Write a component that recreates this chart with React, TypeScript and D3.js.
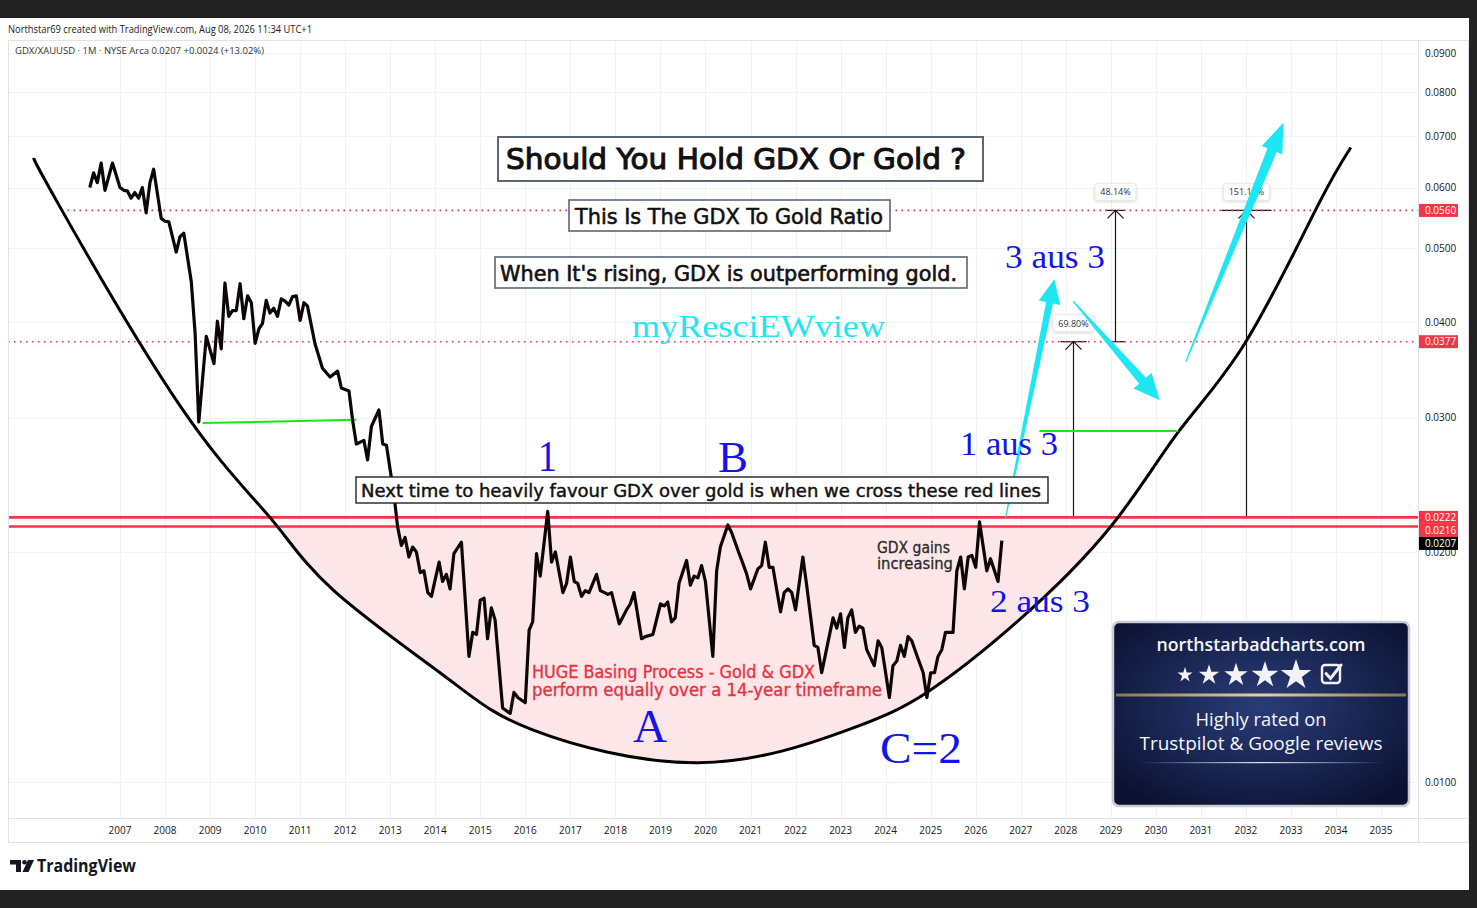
import React, { useEffect, useRef } from 'react';
import * as d3 from 'd3';

const W = 1477;
const H = 908;

const pane = { left: 8, right: 1418, top: 40, bottom: 818 };
const axisRight = 1468;
const axisBottom = 842;

// GDX / gold ratio, monthly closes
const priceMonths = [
  '2006-05', '2006-06', '2006-07', '2006-08', '2006-09', '2006-11',
  '2007-01', '2007-02', '2007-03', '2007-04', '2007-05', '2007-06', '2007-07', '2007-08', '2007-09', '2007-10', '2007-12',
  '2008-01', '2008-02', '2008-04', '2008-05', '2008-06', '2008-08', '2008-09', '2008-10', '2008-12',
  '2009-02', '2009-03', '2009-04', '2009-05', '2009-06', '2009-07', '2009-08', '2009-09', '2009-10', '2009-11', '2009-12',
  '2010-01', '2010-02', '2010-03', '2010-04', '2010-05', '2010-06', '2010-07', '2010-08', '2010-09', '2010-10', '2010-11', '2010-12',
  '2011-01', '2011-02', '2011-03', '2011-05', '2011-07', '2011-09', '2011-11', '2011-12',
  '2012-02', '2012-03', '2012-04', '2012-06', '2012-07', '2012-08', '2012-10', '2012-11', '2012-12',
  '2013-02', '2013-03', '2013-04', '2013-05', '2013-06', '2013-07', '2013-08', '2013-09', '2013-10', '2013-11', '2013-12',
  '2014-02', '2014-03', '2014-04', '2014-05', '2014-06', '2014-08', '2014-10', '2014-11', '2014-12',
  '2015-01', '2015-02', '2015-03', '2015-04', '2015-05', '2015-07', '2015-09', '2015-10', '2015-11',
  '2016-01', '2016-02', '2016-03', '2016-04', '2016-05', '2016-07', '2016-08', '2016-09', '2016-11', '2016-12',
  '2017-01', '2017-02', '2017-03', '2017-04', '2017-05', '2017-06', '2017-08', '2017-09', '2017-11', '2017-12',
  '2018-02', '2018-04', '2018-05', '2018-06', '2018-08', '2018-09', '2018-11',
  '2019-01', '2019-02', '2019-03', '2019-04', '2019-05', '2019-06', '2019-08', '2019-09', '2019-10', '2019-11', '2019-12',
  '2020-01', '2020-03', '2020-04', '2020-05', '2020-07', '2020-08', '2020-10', '2020-11', '2020-12',
  '2021-01', '2021-03', '2021-04', '2021-05', '2021-06', '2021-07', '2021-09', '2021-10', '2021-11', '2021-12',
  '2022-01', '2022-03', '2022-04', '2022-06', '2022-07', '2022-08', '2022-09', '2022-11', '2022-12',
  '2023-01', '2023-02', '2023-03', '2023-04', '2023-05', '2023-06', '2023-07', '2023-08', '2023-10', '2023-11', '2023-12',
  '2024-02', '2024-03', '2024-04', '2024-05', '2024-06', '2024-07', '2024-08', '2024-09', '2024-11', '2024-12',
  '2025-01', '2025-02', '2025-03', '2025-04', '2025-05', '2025-07', '2025-08', '2025-09', '2025-10', '2025-11', '2025-12',
  '2026-01', '2026-02', '2026-04', '2026-05', '2026-07', '2026-08',
];

const priceValues = [
  0.0600, 0.0627, 0.0609, 0.0646, 0.0595, 0.0646,
  0.0600, 0.0595, 0.0594, 0.0581, 0.0591, 0.0581, 0.0600, 0.0556, 0.0609, 0.0634, 0.0547,
  0.0542, 0.0541, 0.0494, 0.0517, 0.0523, 0.0452, 0.0387, 0.0296, 0.0383,
  0.0353, 0.0401, 0.0369, 0.0450, 0.0407, 0.0414, 0.0414, 0.0449, 0.0404, 0.0433, 0.0424,
  0.0375, 0.0392, 0.0398, 0.0427, 0.0411, 0.0417, 0.0407, 0.0429, 0.0426, 0.0421, 0.0432, 0.0433,
  0.0402, 0.0424, 0.0420, 0.0375, 0.0348, 0.0339, 0.0345, 0.0328,
  0.0325, 0.0298, 0.0277, 0.0280, 0.0264, 0.0292, 0.0307, 0.0277, 0.0276,
  0.0237, 0.0216, 0.0204, 0.0209, 0.0197, 0.0203, 0.0200, 0.0188, 0.0189, 0.0177, 0.0175,
  0.0194, 0.0183, 0.0187, 0.0179, 0.0199, 0.0206, 0.0146, 0.0157, 0.0156,
  0.0173, 0.0174, 0.0154, 0.0169, 0.0163, 0.0125, 0.0123, 0.0131, 0.0129,
  0.0127, 0.0158, 0.0162, 0.0199, 0.0186, 0.0226, 0.0194, 0.0200, 0.0177, 0.0182,
  0.0197, 0.0183, 0.0182, 0.0175, 0.0178, 0.0177, 0.0187, 0.0178, 0.0176, 0.0177,
  0.0161, 0.0168, 0.0171, 0.0177, 0.0154, 0.0155, 0.0156,
  0.0171, 0.0170, 0.0172, 0.0162, 0.0164, 0.0182, 0.0195, 0.0181, 0.0186, 0.0185, 0.0192,
  0.0183, 0.0146, 0.0189, 0.0203, 0.0217, 0.0212, 0.0199, 0.0193, 0.0187,
  0.0179, 0.0190, 0.0192, 0.0206, 0.0191, 0.0191, 0.0167, 0.0177, 0.0179, 0.0177,
  0.0168, 0.0197, 0.0181, 0.0151, 0.0150, 0.0139, 0.0147, 0.0164, 0.0159,
  0.0166, 0.0150, 0.0164, 0.0168, 0.0157, 0.0160, 0.0159, 0.0149, 0.0142, 0.0153, 0.0150,
  0.0129, 0.0142, 0.0144, 0.0151, 0.0146, 0.0155, 0.0153, 0.0148, 0.0139, 0.0129,
  0.0139, 0.0139, 0.0146, 0.0149, 0.0157, 0.0157, 0.0189, 0.0197, 0.0179, 0.0197, 0.0198,
  0.0191, 0.0219, 0.0189, 0.0196, 0.0183, 0.0207,
];

// hand-drawn bowl (rounding bottom) anchor points
const bowlMonths = [
  '2005-02', '2005-09', '2008-05', '2010-05', '2011-10', '2014-04', '2016-03', '2019-11',
  '2023-03', '2024-12', '2026-12', '2029-01', '2030-07', '2032-01', '2033-08', '2034-05',
];
const bowlValues = [
  0.0656, 0.0566, 0.0311, 0.0222, 0.0178, 0.0137, 0.0117, 0.0106,
  0.0117, 0.0131, 0.0162, 0.0216, 0.0287, 0.0377, 0.0566, 0.0677,
];

const priceTicks = [0.01, 0.02, 0.03, 0.04, 0.05, 0.06, 0.07, 0.08, 0.09];
const yearTicks = [
  2007, 2008, 2009, 2010, 2011, 2012, 2013, 2014, 2015, 2016, 2017, 2018, 2019, 2020, 2021,
  2022, 2023, 2024, 2025, 2026, 2027, 2028, 2029, 2030, 2031, 2032, 2033, 2034, 2035,
];

const redLevels = [0.0222, 0.0216];
const dottedLevels = [0.056, 0.0377];
const dottedStart = ['2005-11', '2000-01'];
const lastValue = 0.0207;

const greenStart = ['2008-11', '2027-06'];
const greenEnd = ['2012-04', '2030-07'];
const greenFrom = [0.0295, 0.0288];
const greenTo = [0.0298, 0.0288];

const measureMonths = ['2028-03', '2029-02', '2032-01'];
const measureFrom = [0.0222, 0.0377, 0.0222];
const measureTo = [0.0377, 0.056, 0.056];
const measureLabels = ['69.80%', '48.14%', '151.13%'];

const arrowTails: [string, number][] = [['2026-09', 0.0222], ['2028-03', 0.0426], ['2030-09', 0.0355]];
const arrowTips: [string, number][] = [['2027-10', 0.0455], ['2030-02', 0.0316], ['2032-11', 0.073]];

const parseMonth = d3.timeParse('%Y-%m');

const x = d3
  .scaleTime()
  .domain([new Date(2007, 0, 1), new Date(2035, 0, 1)])
  .range([120, 1381]);
const y = d3.scaleLog().domain([0.01, 0.09]).range([782, 53]);

const sans = '"DejaVu Sans", Verdana, sans-serif';
const ui = '"Open Sans", "Noto Sans", sans-serif';
const serif = '"Liberation Serif", "Times New Roman", serif';

const red = '#f23645';
const cyan = '#1ee6f2';
const blue = '#1414e8';

const App: React.FC = () => {
  const containerRef = useRef<HTMLDivElement>(null);

  useEffect(() => {
    if (containerRef && containerRef.current) {
      drawChart(containerRef.current);
    }
  }, [containerRef]);

  return <div ref={containerRef} style={{ position: 'absolute', left: 0, top: 0 }}></div>;
};

const arrowPath = (t: number[], h: number[], headLen: number, headHalf: number, neckHalf: number) => {
  const dx = h[0] - t[0];
  const dy = h[1] - t[1];
  const len = Math.hypot(dx, dy);
  const ux = dx / len;
  const uy = dy / len;
  const nx = -uy;
  const ny = ux;
  const bx = h[0] - ux * headLen;
  const by = h[1] - uy * headLen;
  const pts = [
    [t[0] + nx * 0.6, t[1] + ny * 0.6],
    [bx + nx * neckHalf, by + ny * neckHalf],
    [bx + nx * headHalf, by + ny * headHalf],
    h,
    [bx - nx * headHalf, by - ny * headHalf],
    [bx - nx * neckHalf, by - ny * neckHalf],
    [t[0] - nx * 0.6, t[1] - ny * 0.6],
  ];
  return 'M' + pts.map((p) => p.join(',')).join('L') + 'Z';
};

const drawChart = (container: HTMLDivElement) => {
  d3.select(container).selectAll('*').remove();

  const svg = d3
    .select(container)
    .append('svg')
    .attr('width', W)
    .attr('height', H)
    .style('display', 'block');

  const defs = svg.append('defs');

  // page frame
  svg.append('rect').attr('width', W).attr('height', H).attr('fill', '#ffffff');
  svg.append('rect').attr('width', W).attr('height', 18).attr('fill', '#222222');
  svg.append('rect').attr('y', 890).attr('width', W).attr('height', 18).attr('fill', '#222222');
  svg.append('rect').attr('x', 1469).attr('width', 8).attr('height', H).attr('fill', '#222222');

  // grid
  const grid = svg.append('g').attr('stroke', '#f0f2f6').attr('stroke-width', 1);
  yearTicks.forEach((yr) => {
    const xx = Math.round(x(new Date(yr, 0, 1))) + 0.5;
    grid.append('line').attr('x1', xx).attr('x2', xx).attr('y1', pane.top).attr('y2', pane.bottom);
  });
  priceTicks.forEach((v) => {
    const yy = Math.round(y(v)) + 0.5;
    grid.append('line').attr('x1', pane.left).attr('x2', pane.right).attr('y1', yy).attr('y2', yy);
  });

  // pane borders
  const border = svg.append('g').attr('stroke', '#e0e3eb').attr('stroke-width', 1).attr('fill', 'none');
  border.append('rect').attr('x', pane.left + 0.5).attr('y', pane.top + 0.5).attr('width', axisRight - pane.left).attr('height', axisBottom - pane.top);
  border.append('line').attr('x1', pane.right + 0.5).attr('x2', pane.right + 0.5).attr('y1', pane.top).attr('y2', axisBottom);
  border.append('line').attr('x1', pane.left).attr('x2', axisRight).attr('y1', pane.bottom + 0.5).attr('y2', pane.bottom + 0.5);

  const plot = svg.append('g');
  defs
    .append('clipPath')
    .attr('id', 'paneClip')
    .append('rect')
    .attr('x', pane.left + 1)
    .attr('y', pane.top + 1)
    .attr('width', pane.right - pane.left - 1)
    .attr('height', pane.bottom - pane.top - 1);
  plot.attr('clip-path', 'url(#paneClip)');

  // bowl curve
  const bowl = bowlMonths.map((m, i) => [x(parseMonth(m)!), y(bowlValues[i])] as [number, number]);
  const bowlPath = d3.line().curve(d3.curveNatural)(bowl)!;

  defs.append('clipPath').attr('id', 'bowlClip').append('path').attr('d', bowlPath + 'Z');
  plot
    .append('rect')
    .attr('x', pane.left)
    .attr('y', y(0.0216))
    .attr('width', pane.right - pane.left)
    .attr('height', pane.bottom - y(0.0216))
    .attr('fill', '#fde6e8')
    .attr('clip-path', 'url(#bowlClip)');

  // price range measurements
  const measure = plot.append('g').attr('stroke', '#131722').attr('stroke-width', 1.2).attr('fill', 'none');
  const capHalf = [13, 10, 25];
  measureMonths.forEach((m, i) => {
    const mx = Math.round(x(parseMonth(m)!)) + 0.5;
    const y0 = y(measureFrom[i]);
    const y1 = y(measureTo[i]);
    measure.append('line').attr('x1', mx).attr('x2', mx).attr('y1', y0).attr('y2', y1);
    measure.append('line').attr('x1', mx - capHalf[i]).attr('x2', mx + capHalf[i]).attr('y1', y1).attr('y2', y1);
    if (i === 1) {
      measure.append('line').attr('x1', mx - capHalf[i]).attr('x2', mx + capHalf[i]).attr('y1', y0).attr('y2', y0);
    }
    measure.append('path').attr('d', `M${mx - 8},${y1 + 8}L${mx},${y1}L${mx + 8},${y1 + 8}`);
    const label = measureLabels[i];
    const bw = label.length * 5.2 + 10;
    const lg = plot.append('g');
    lg.append('rect')
      .attr('x', mx - bw / 2)
      .attr('y', y1 - 27)
      .attr('width', bw)
      .attr('height', 17)
      .attr('rx', 3)
      .attr('fill', '#ffffff')
      .attr('stroke', '#e6e8ee')
      .style('filter', 'drop-shadow(0px 1px 1.5px rgba(0,0,0,0.15))');
    lg.append('text')
      .attr('x', mx)
      .attr('y', y1 - 15)
      .attr('text-anchor', 'middle')
      .attr('font-family', ui)
      .attr('font-size', 9)
      .attr('fill', '#333')
      .text(label);
  });

  // red lines to cross
  redLevels.forEach((v) => {
    plot
      .append('line')
      .attr('x1', pane.left)
      .attr('x2', pane.right)
      .attr('y1', y(v))
      .attr('y2', y(v))
      .attr('stroke', red)
      .attr('stroke-width', 2.6);
  });

  // dotted targets
  dottedLevels.forEach((v, i) => {
    plot
      .append('line')
      .attr('x1', Math.max(pane.left, x(parseMonth(dottedStart[i])!)))
      .attr('x2', pane.right)
      .attr('y1', y(v))
      .attr('y2', y(v))
      .attr('stroke', '#e0345c')
      .attr('stroke-width', 1.6)
      .attr('stroke-dasharray', '1.6,4.4');
  });

  plot
    .append('path')
    .attr('d', bowlPath)
    .attr('fill', 'none')
    .attr('stroke', '#000')
    .attr('stroke-width', 3);

  // green horizontals
  greenStart.forEach((m, i) => {
    plot
      .append('line')
      .attr('x1', x(parseMonth(m)!))
      .attr('x2', x(parseMonth(greenEnd[i])!))
      .attr('y1', y(greenFrom[i]))
      .attr('y2', y(greenTo[i]))
      .attr('stroke', '#16e816')
      .attr('stroke-width', 2);
  });

  // ratio line
  const pricePts = priceMonths.map((m, i) => [x(parseMonth(m)!), y(priceValues[i])] as [number, number]);
  plot
    .append('path')
    .attr('d', d3.line()(pricePts)!)
    .attr('fill', 'none')
    .attr('stroke', '#0d0606')
    .attr('stroke-width', 3.2)
    .attr('stroke-linejoin', 'round');

  // cyan arrows
  const arrowShape = [
    [24, 11, 3.5],
    [26, 12, 4.5],
    [30, 11, 5],
  ];
  arrowTails.forEach((t, i) => {
    const tp = [x(parseMonth(t[0])!), y(t[1])];
    const hp = [x(parseMonth(arrowTips[i][0])!), y(arrowTips[i][1])];
    plot
      .append('path')
      .attr('d', arrowPath(tp, hp, arrowShape[i][0], arrowShape[i][1], arrowShape[i][2]))
      .attr('fill', cyan);
  });

  // text boxes
  const boxText = (
    txt: string,
    bx: number,
    by: number,
    bw: number,
    bh: number,
    size: number,
    thick: number,
    tx: number,
    ty: number,
    tl: number,
    stroke: string,
    sw: number
  ) => {
    const g = svg.append('g');
    g.append('rect')
      .attr('x', bx)
      .attr('y', by)
      .attr('width', bw)
      .attr('height', bh)
      .attr('fill', '#fff')
      .attr('stroke', stroke)
      .attr('stroke-width', sw);
    g.append('text')
      .attr('x', tx)
      .attr('y', ty)
      .attr('font-family', sans)
      .attr('font-size', size)
      .attr('fill', '#111')
      .attr('stroke', '#111')
      .attr('stroke-width', thick)
      .attr('textLength', tl)
      .attr('lengthAdjust', 'spacingAndGlyphs')
      .text(txt);
  };

  boxText('Should You Hold GDX Or Gold ?', 498, 137, 485, 44, 29, 1.1, 506, 169, 460, '#5b6775', 2);
  boxText('This Is The GDX To Gold Ratio', 569, 200, 321, 31, 22, 0.6, 575, 224, 308, '#5b6775', 1.6);
  boxText("When It's rising, GDX is outperforming gold.", 495, 257, 472, 31, 20.5, 0.6, 500, 281, 457, '#5b6775', 1.6);
  boxText('Next time to heavily favour GDX over gold is when we cross these red lines', 356, 477, 692, 26, 18, 0.45, 361, 497, 680, '#222', 1.4);

  const freeText = (
    txt: string,
    tx: number,
    ty: number,
    size: number,
    family: string,
    fill: string,
    tl: number | null,
    weight = 400
  ) => {
    const t = svg
      .append('text')
      .attr('x', tx)
      .attr('y', ty)
      .attr('font-family', family)
      .attr('font-size', size)
      .attr('font-weight', weight)
      .attr('fill', fill)
      .text(txt);
    if (tl) t.attr('textLength', tl).attr('lengthAdjust', 'spacingAndGlyphs');
    return t;
  };

  freeText('myResciEWview', 632, 337, 32, serif, cyan, 253);
  freeText('GDX gains', 877, 553, 15, sans, '#2a2a2a', 73).attr('stroke', '#2a2a2a').attr('stroke-width', 0.3);
  freeText('increasing', 877, 569, 15, sans, '#2a2a2a', 76).attr('stroke', '#2a2a2a').attr('stroke-width', 0.3);
  freeText('HUGE Basing Process - Gold & GDX', 532, 678, 17, sans, '#e8313f', 283).attr('stroke', '#e8313f').attr('stroke-width', 0.35);
  freeText('perform equally over a 14-year timeframe', 532, 696, 17, sans, '#e8313f', 350).attr('stroke', '#e8313f').attr('stroke-width', 0.35);

  freeText('1', 538, 471, 44, serif, blue, 19);
  freeText('B', 718, 472, 44, serif, blue, 30);
  freeText('1 aus 3', 960, 455, 34, serif, blue, 98);
  freeText('3 aus 3', 1005, 268, 34, serif, blue, 100);
  freeText('2 aus 3', 990, 612, 32, serif, blue, 100);
  freeText('A', 633, 742, 46, serif, blue, 34);
  freeText('C=2', 880, 763, 44, serif, blue, 82);

  // price axis
  const axis = svg.append('g').attr('font-family', ui).attr('font-size', 10).attr('fill', '#131722');
  priceTicks.forEach((v) => {
    axis
      .append('text')
      .attr('x', 1425)
      .attr('y', y(v) + 3.5)
      .text(d3.format('.4f')(v));
  });

  const tags = [
    ...dottedLevels.map((v) => ({ v, fill: red })),
    ...redLevels.map((v) => ({ v, fill: red })),
    { v: lastValue, fill: '#000' },
  ].map((d) => ({ ...d, yy: y(d.v) }));
  tags.sort((a, b) => a.yy - b.yy);
  for (let i = 1; i < tags.length; i++) {
    if (tags[i].yy < tags[i - 1].yy + 13) tags[i].yy = tags[i - 1].yy + 13;
  }
  tags.forEach((d) => {
    axis
      .append('rect')
      .attr('x', 1419)
      .attr('y', d.yy - 6.5)
      .attr('width', 39)
      .attr('height', 13)
      .attr('fill', d.fill);
    axis
      .append('text')
      .attr('x', 1425)
      .attr('y', d.yy + 3.5)
      .attr('fill', '#fff')
      .text(d3.format('.4f')(d.v));
  });

  // time axis
  yearTicks.forEach((yr) => {
    axis
      .append('text')
      .attr('x', x(new Date(yr, 0, 1)))
      .attr('y', 834)
      .attr('text-anchor', 'middle')
      .text(yr);
  });

  // header
  freeText('Northstar69 created with TradingView.com, Aug 08, 2026 11:34 UTC+1', 8, 33, 10, ui, '#222', 304);
  freeText('GDX/XAUUSD · 1M · NYSE Arca  0.0207  +0.0024 (+13.02%)', 15, 54, 9.5, ui, '#333', 249);

  // TradingView logo
  const logo = svg.append('g').attr('fill', '#131722');
  logo.append('path').attr('d', 'M10,860H21V872H16V864.5H10Z');
  logo.append('circle').attr('cx', 24.5).attr('cy', 862.3).attr('r', 2.3);
  logo.append('path').attr('d', 'M28,860H34L28.5,872H22.5Z');
  freeText('TradingView', 37, 872, 17, ui, '#131722', 99, 700);

  // review badge
  const grad = defs
    .append('radialGradient')
    .attr('id', 'badgeGrad')
    .attr('cx', '50%')
    .attr('cy', '45%')
    .attr('r', '65%');
  grad.append('stop').attr('offset', '0%').attr('stop-color', '#2a3b78');
  grad.append('stop').attr('offset', '60%').attr('stop-color', '#18244f');
  grad.append('stop').attr('offset', '100%').attr('stop-color', '#0b1130');

  const gold = defs.append('linearGradient').attr('id', 'goldLine');
  gold.append('stop').attr('offset', '0%').attr('stop-color', '#8a7650');
  gold.append('stop').attr('offset', '50%').attr('stop-color', '#e6d3a0');
  gold.append('stop').attr('offset', '100%').attr('stop-color', '#8a7650');

  const glow = defs.append('linearGradient').attr('id', 'glowLine');
  glow.append('stop').attr('offset', '0%').attr('stop-color', '#ffffff').attr('stop-opacity', 0);
  glow.append('stop').attr('offset', '50%').attr('stop-color', '#ffffff').attr('stop-opacity', 0.9);
  glow.append('stop').attr('offset', '100%').attr('stop-color', '#ffffff').attr('stop-opacity', 0);

  const badge = svg.append('g');
  badge
    .append('rect')
    .attr('x', 1113)
    .attr('y', 622)
    .attr('width', 296)
    .attr('height', 184)
    .attr('rx', 6)
    .attr('fill', 'url(#badgeGrad)')
    .attr('stroke', '#c9ccd4')
    .attr('stroke-width', 2.5);
  badge.append('rect').attr('x', 1116).attr('y', 693.5).attr('width', 290).attr('height', 3).attr('fill', 'url(#goldLine)');
  badge.append('rect').attr('x', 1140).attr('y', 762).attr('width', 245).attr('height', 1.2).attr('fill', 'url(#glowLine)');

  const badgeText = (txt: string, cx: number, ty: number, tl: number, weight: number) =>
    badge
      .append('text')
      .attr('x', cx)
      .attr('y', ty)
      .attr('text-anchor', 'middle')
      .attr('font-family', ui)
      .attr('font-size', 18)
      .attr('font-weight', weight)
      .attr('fill', '#f4f5f8')
      .attr('textLength', tl)
      .attr('lengthAdjust', 'spacingAndGlyphs')
      .text(txt);

  badgeText('northstarbadcharts.com', 1261, 651, 209, 600);
  badgeText('Highly rated on', 1261, 726, 131, 500);
  badgeText('Trustpilot & Google reviews', 1261, 750, 243, 500);

  const starX = [1185, 1209, 1236, 1265, 1296];
  const starSize = [70, 130, 170, 220, 290];
  starX.forEach((sx, i) => {
    badge
      .append('path')
      .attr('d', d3.symbol().type(d3.symbolStar).size(starSize[i])()!)
      .attr('transform', `translate(${sx},${675})`)
      .attr('fill', '#f1f2f5');
  });
  badge
    .append('rect')
    .attr('x', 1322)
    .attr('y', 665)
    .attr('width', 18)
    .attr('height', 18)
    .attr('rx', 3)
    .attr('fill', 'none')
    .attr('stroke', '#f1f2f5')
    .attr('stroke-width', 2.4);
  badge
    .append('path')
    .attr('d', 'M1326,673.5L1330.5,678.5L1341,665')
    .attr('fill', 'none')
    .attr('stroke', '#f1f2f5')
    .attr('stroke-width', 3)
    .attr('stroke-linecap', 'round');
};

export default App;
